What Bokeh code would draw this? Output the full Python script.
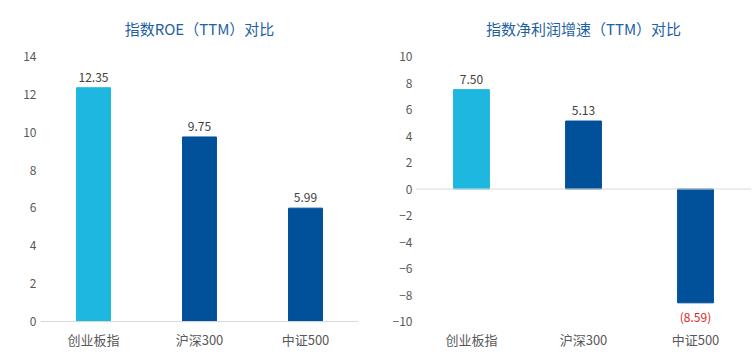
from bokeh.plotting import figure
from bokeh.layouts import row
from bokeh.models import ColumnDataSource, Span, FixedTicker, LabelSet, Title
from bokeh.core.properties import value
from bokeh.embed import file_html
from bokeh.resources import INLINE

categories = ["创业板指", "沪深300", "中证500"]
roe = [12.35, 9.75, 5.99]
profit_growth = [7.50, 5.13, -8.59]
bar_colors = ["#1DB7E0", "#00509A", "#00509A"]
roe_ticks = [0, 2, 4, 6, 8, 10, 12, 14]
growth_ticks = [-10, -8, -6, -4, -2, 0, 2, 4, 6, 8, 10]

FONT = "Noto Sans CJK SC"


def fmt(v):
    return f"({abs(v):.2f})" if v < 0 else f"{v:.2f}"


def make(title, vals, ticks, yr, left, right, offset, ystand):
    p = figure(x_range=categories, y_range=yr, width=378, height=357,
               output_backend="svg", toolbar_location=None,
               min_border_left=left, min_border_right=right,
               min_border_top=56, min_border_bottom=21)
    p.title.text = title
    p.title.align = "center"
    p.title.offset = offset
    p.title.text_font = FONT
    p.title.text_font_size = "15px"
    p.title.text_font_style = "normal"
    p.title.text_color = "#1F5FA3"
    spacer = Title(text=" ", text_font_size="1px", standoff=10)
    p.add_layout(spacer, "above")
    p.outline_line_color = None
    p.grid.grid_line_color = None

    src = ColumnDataSource(dict(
        x=categories, top=vals, color=bar_colors,
        label=[fmt(v) for v in vals],
        lcolor=["#E02424" if v < 0 else "#404040" for v in vals],
        base=["top" if v < 0 else "bottom" for v in vals],
        yoff=[-5 if v < 0 else 6 for v in vals],
    ))
    p.vbar(x="x", top="top", bottom=0, width=0.32, color="color", source=src)
    labels = LabelSet(x="x", y="top", text="label", text_color="lcolor",
                      text_baseline="base", y_offset="yoff", text_align="center",
                      text_font=value(FONT), text_font_size="12px", source=src)
    p.add_layout(labels)
    p.add_layout(Span(location=0, dimension="width", line_color="#D9D9D9", line_width=1))

    p.yaxis.ticker = FixedTicker(ticks=ticks)
    p.yaxis.axis_line_color = None
    p.yaxis.major_tick_line_color = None
    p.yaxis.minor_tick_line_color = None
    p.yaxis.major_tick_out = 0
    p.yaxis.major_label_standoff = ystand
    p.yaxis.major_label_text_font = FONT
    p.yaxis.major_label_text_font_size = "12px"
    p.yaxis.major_label_text_color = "#595959"

    p.xaxis.axis_line_color = None
    p.xaxis.major_tick_line_color = None
    p.xaxis.major_tick_out = 0
    p.xaxis.major_tick_in = 0
    p.xaxis.major_label_standoff = -7
    p.xaxis.major_label_text_font = FONT
    p.xaxis.major_label_text_font_size = "13px"
    p.xaxis.major_label_text_color = "#595959"
    return p


p1 = make("指数ROE（TTM）对比", roe, roe_ticks, (-0.79, 14), 40, 20, -8, 4)
p2 = make("指数净利润增速（TTM）对比", profit_growth, growth_ticks, (-11.13, 10), 37, 5, -24, 3)

layout = row(p1, p2, spacing=0)
open("out.html", "w").write(file_html(layout, INLINE))
